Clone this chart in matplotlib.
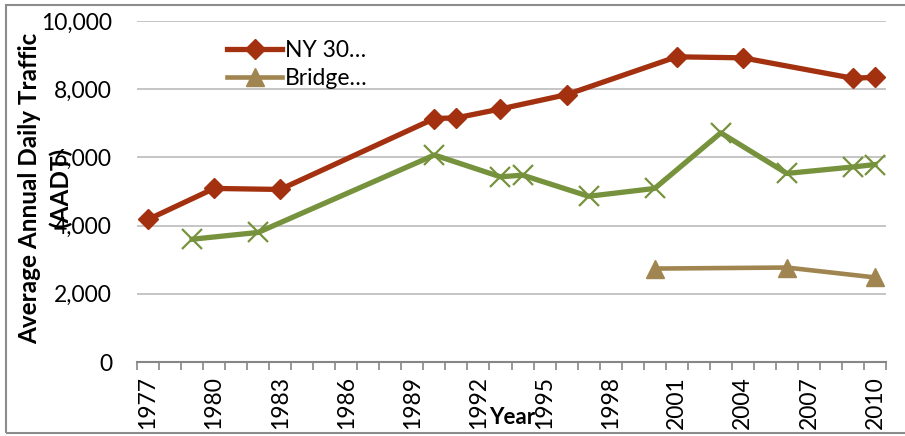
import matplotlib
matplotlib.use("Agg")
import matplotlib.pyplot as plt
from matplotlib.patches import Rectangle

plt.rcParams['font.family'] = ['Lato', 'DejaVu Sans']

# data
ny30_years = [1977, 1980, 1983, 1990, 1991, 1993, 1996, 2001, 2004, 2009, 2010]
ny30_aadt = [4180, 5090, 5060, 7140, 7160, 7420, 7840, 8950, 8920, 8320, 8350]

other_years = [1979, 1982, 1990, 1993, 1994, 1997, 2000, 2003, 2006, 2009, 2010]
other_aadt = [3600, 3800, 6070, 5430, 5480, 4860, 5090, 6720, 5530, 5720, 5790]

bridge_years = [2000, 2006, 2010]
bridge_aadt = [2740, 2770, 2480]

year_labels = list(range(1977, 2011, 3))

fig = plt.figure(figsize=(9.05, 4.36), dpi=100)
ax = fig.add_axes([137/905, 1 - 362/436, (886 - 137)/905, (362 - 21)/436])

# outer chart border
fig.patches.append(Rectangle((6/905, 3/436), 1.2, 428/436, transform=fig.transFigure,
                             fill=False, edgecolor='#8c8c8c', linewidth=1.5))

red = '#A3310F'
green = '#76923C'
tan = '#A08550'

ax.plot(ny30_years, ny30_aadt, color=red, lw=3.8, marker='D', ms=10.5,
        label='NY 30…', zorder=4)
ax.plot(bridge_years, bridge_aadt, color=tan, lw=3.3, marker='^', ms=13,
        label='Bridge…', zorder=3)
ax.plot(other_years, other_aadt, color=green, lw=3.8, marker='x', ms=14,
        mew=1.6, zorder=3)

ax.set_xlim(1976.5, 2010.5)
ax.set_ylim(0, 10000)
ax.set_yticks(range(0, 10001, 2000))
ax.set_yticklabels(['{:,}'.format(v) for v in range(0, 10001, 2000)])
ax.grid(axis='y', color='#c0c0c0', lw=1.3)
ax.set_axisbelow(True)

ax.set_xticks(year_labels)
ax.set_xticklabels([str(y) for y in year_labels], rotation=90)
ax.set_xticks([1976.5 + i for i in range(35)], minor=True)
ax.tick_params(axis='x', which='major', length=0, pad=10, labelsize=16.5)
ax.tick_params(axis='x', which='minor', length=6, width=1.2, color='#868686', direction='out')
ax.tick_params(axis='y', length=0, pad=18, labelsize=16.5)

for s in ['top', 'right', 'left']:
    ax.spines[s].set_visible(False)
ax.spines['bottom'].set_color('#868686')
ax.spines['bottom'].set_linewidth(1.5)

fig.text(45/905, 1 - 188/436, 'Average Annual Daily Traffic\n(AADT)', rotation=90,
         ha='center', va='center', multialignment='center', fontsize=17.5,
         fontweight='bold', linespacing=1.4)
fig.text(512/905, 1 - 417/436, 'Year', ha='center', va='center', fontsize=16,
         fontweight='bold')

ax.legend(loc='upper left', bbox_to_anchor=(216/905, 1 - 29/436),
          bbox_transform=fig.transFigure, frameon=False, fontsize=16.5,
          handlelength=2.4, handletextpad=0.1, labelspacing=0.3, borderpad=0)

fig.savefig('out.png', dpi=100)
